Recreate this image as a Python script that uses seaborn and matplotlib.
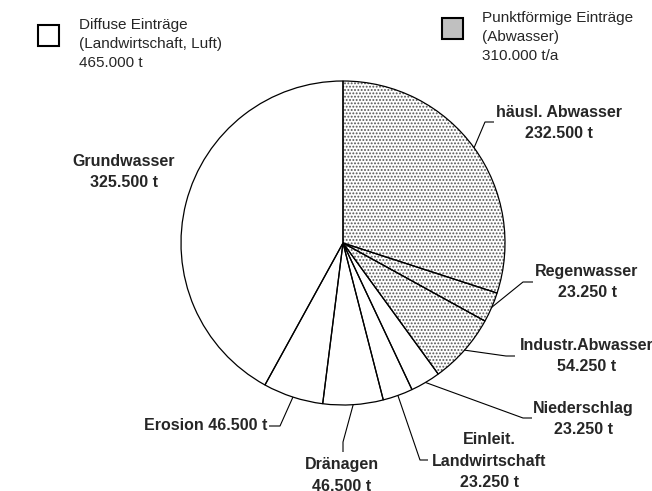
import numpy as np
import matplotlib
matplotlib.use("Agg")
import matplotlib.pyplot as plt
import seaborn as sns

# --- Data ---
sources = ["häusl. Abwasser", "Regenwasser", "Industr.Abwasser", "Niederschlag",
           "Einleit.\nLandwirtschaft", "Dränagen", "Erosion", "Grundwasser"]
loads_t = [232500, 23250, 54250, 23250, 23250, 46500, 46500, 325500]
load_labels = ["232.500 t", "23.250 t", "54.250 t", "23.250 t",
               "23.250 t", "46.500 t", "46.500 t", "325.500 t"]
is_point_source = [True, True, True, False, False, False, False, False]

legend_texts = ["Diffuse Einträge\n(Landwirtschaft, Luft)\n465.000 t",
                "Punktförmige Einträge\n(Abwasser)\n310.000 t/a"]

# --- Layout (image pixels, y downwards) ---
W, H = 652, 491
CENTER = (343, 243)
RADIUS = 162
# knee, end of leader line, text anchor, ha, va, single-line joiner
LAYOUT = [
    ((485, 122), (494, 122), (559, 123), "center", "center", "\n"),
    ((523, 282), (533, 282), (587, 282), "center", "center", "\n"),
    ((506, 356), (515, 356), (587, 356), "center", "center", "\n"),
    ((523, 418), (532, 418), (583, 419), "center", "center", "\n"),
    ((420, 460), (428, 460), (489, 461), "center", "center", "\n"),
    ((343, 442), (343, 452), (342, 457), "center", "top", "\n"),
    ((280, 426), (269, 426), (267, 426), "right", "center", " "),
    (None, None, (124, 172), "center", "center", "\n"),
]


def py(y):
    return H - y


sns.set_style("white")
plt.rcParams["font.family"] = ["Liberation Sans", "DejaVu Sans"]
plt.rcParams["hatch.linewidth"] = 0.9

fig = plt.figure(figsize=(W / 100, H / 100), dpi=100)
ax = fig.add_axes([0, 0, 1, 1])

center = (CENTER[0], py(CENTER[1]))

# fill layer: white wedges, dotted hatch for point sources
wedges, _ = ax.pie(loads_t, radius=RADIUS, center=center, startangle=90,
                   counterclock=False, colors=["white"] * len(loads_t),
                   wedgeprops=dict(linewidth=0, edgecolor="#555555"))
for w, pt in zip(wedges, is_point_source):
    if pt:
        w.set_hatch(".....")

# outline layer
outline, _ = ax.pie(loads_t, radius=RADIUS, center=center, startangle=90,
                    counterclock=False,
                    wedgeprops=dict(fill=False, linewidth=0.9, edgecolor="black"))

# labels with leader lines
for w, name, val, lay in zip(wedges, sources, load_labels, LAYOUT):
    knee, end, tpos, ha, va, joiner = lay
    mid = np.deg2rad((w.theta1 + w.theta2) / 2)
    if knee is not None:
        ax_ = center[0] + RADIUS * np.cos(mid)
        ay_ = center[1] + RADIUS * np.sin(mid)
        ax.plot([ax_, knee[0], end[0]], [ay_, py(knee[1]), py(end[1])],
                color="black", linewidth=0.8, solid_capstyle="butt")
    ax.text(tpos[0], py(tpos[1]), name + joiner + val, ha=ha, va=va,
            multialignment="center", fontsize=11.5, fontweight="bold",
            linespacing=1.55)

# legend boxes
legend_boxes = [((38, 25), "white"), ((442, 18), "#c0c0c0")]
legend_text_pos = [(79, 18), (482, 11)]
for (pos, fc), tpos, txt in zip(legend_boxes, legend_text_pos, legend_texts):
    ax.add_patch(plt.Rectangle((pos[0], py(pos[1] + 21)), 21, 21,
                               facecolor=fc, edgecolor="black", linewidth=1.5))
    ax.text(tpos[0], py(tpos[1]), txt, ha="left", va="top", fontsize=11,
            linespacing=1.45)

ax.set_xlim(0, W)
ax.set_ylim(0, H)
ax.set_aspect("auto")
ax.axis("off")

fig.savefig("out.png", dpi=100)
